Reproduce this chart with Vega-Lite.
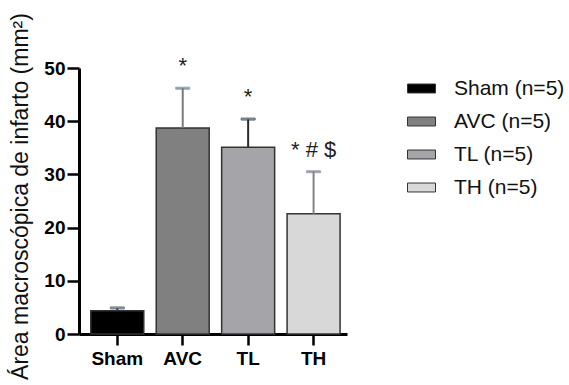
{
  "$schema": "https://vega.github.io/schema/vega-lite/v6.json",
  "autosize": "none",
  "width": 268,
  "height": 266,
  "padding": {"left": 79, "top": 68, "right": 222, "bottom": 51},
  "background": "white",
  "config": {"view": {"stroke": null}, "font": "Liberation Sans"},
  "data": {
    "values": [
      {"group": "Sham", "legend": "Sham (n=5)", "mean": 4.35, "upper": 4.9, "sig": ""},
      {"group": "AVC", "legend": "AVC (n=5)", "mean": 38.7, "upper": 46.2, "sig": "*"},
      {"group": "TL", "legend": "TL (n=5)", "mean": 35.1, "upper": 40.4, "sig": "*"},
      {"group": "TH", "legend": "TH (n=5)", "mean": 22.6, "upper": 30.5, "sig": "* # $"}
    ]
  },
  "encoding": {
    "x": {
      "field": "group",
      "type": "nominal",
      "sort": ["Sham", "AVC", "TL", "TH"],
      "scale": {"paddingInner": 0.19, "paddingOuter": 0.143, "align": 0.63},
      "axis": {
        "title": null,
        "labelAngle": 0,
        "labelFont": "Liberation Sans",
        "labelFontWeight": "bold",
        "labelFontSize": 19,
        "labelColor": "#000",
        "labelPadding": 4,
        "domainColor": "#000",
        "domainWidth": 3,
        "tickColor": "#000",
        "tickWidth": 2.5,
        "tickSize": 11
      }
    }
  },
  "layer": [
    {
      "mark": {"type": "bar", "stroke": "#333", "strokeWidth": 1.5},
      "encoding": {
        "y": {
          "field": "mean",
          "type": "quantitative",
          "scale": {"domain": [0, 50], "nice": false},
          "axis": {
            "values": [0, 10, 20, 30, 40, 50],
            "grid": false,
            "title": "Área macroscópica de infarto (mm²)",
            "titleFont": "Liberation Sans",
            "titleFontSize": 23,
            "titleFontWeight": "normal",
            "titleColor": "#111",
            "titleX": -52,
            "titleY": 128,
            "titleAngle": 270,
            "titleAlign": "center",
            "titleBaseline": "alphabetic",
            "labelFont": "Liberation Sans",
            "labelFontWeight": "bold",
            "labelFontSize": 19,
            "labelColor": "#000",
            "labelPadding": 2,
            "domainColor": "#000",
            "domainWidth": 3,
            "tickColor": "#000",
            "tickWidth": 2.5,
            "tickSize": 12
          }
        },
        "fill": {
          "field": "legend",
          "type": "nominal",
          "scale": {
            "domain": ["Sham (n=5)", "AVC (n=5)", "TL (n=5)", "TH (n=5)"],
            "range": ["#000000", "#808080", "#a4a4a9", "#d8d8d8"]
          },
          "legend": {
            "title": null,
            "orient": "none",
            "legendX": 328,
            "legendY": 6,
            "symbolType": "M-1,-0.32H1V0.32H-1Z",
            "symbolSize": 784,
            "symbolStrokeWidth": 1,
            "symbolStrokeColor": "#333",
            "labelFont": "Liberation Sans",
            "labelFontSize": 21,
            "labelColor": "#111",
            "labelOffset": 18,
            "rowPadding": 8
          }
        }
      }
    },
    {
      "mark": {"type": "rule", "strokeWidth": 2},
      "encoding": {
        "y": {"field": "mean", "type": "quantitative"},
        "y2": {"field": "upper"},
        "stroke": {
          "field": "group",
          "type": "nominal",
          "scale": {"domain": ["Sham", "AVC", "TL", "TH"], "range": ["#444444", "#7a7a7a", "#2a2a2a", "#858585"]},
          "legend": null
        }
      }
    },
    {
      "mark": {"type": "tick", "size": 14, "thickness": 2},
      "encoding": {
        "y": {"field": "upper", "type": "quantitative"},
        "stroke": {"field": "group", "type": "nominal", "legend": null}
      }
    },
    {
      "mark": {"type": "text", "fontSize": 22, "baseline": "alphabetic", "dy": -15, "color": "#222", "font": "Liberation Sans"},
      "encoding": {
        "y": {"field": "upper", "type": "quantitative"},
        "text": {"field": "sig"}
      }
    }
  ]
}
